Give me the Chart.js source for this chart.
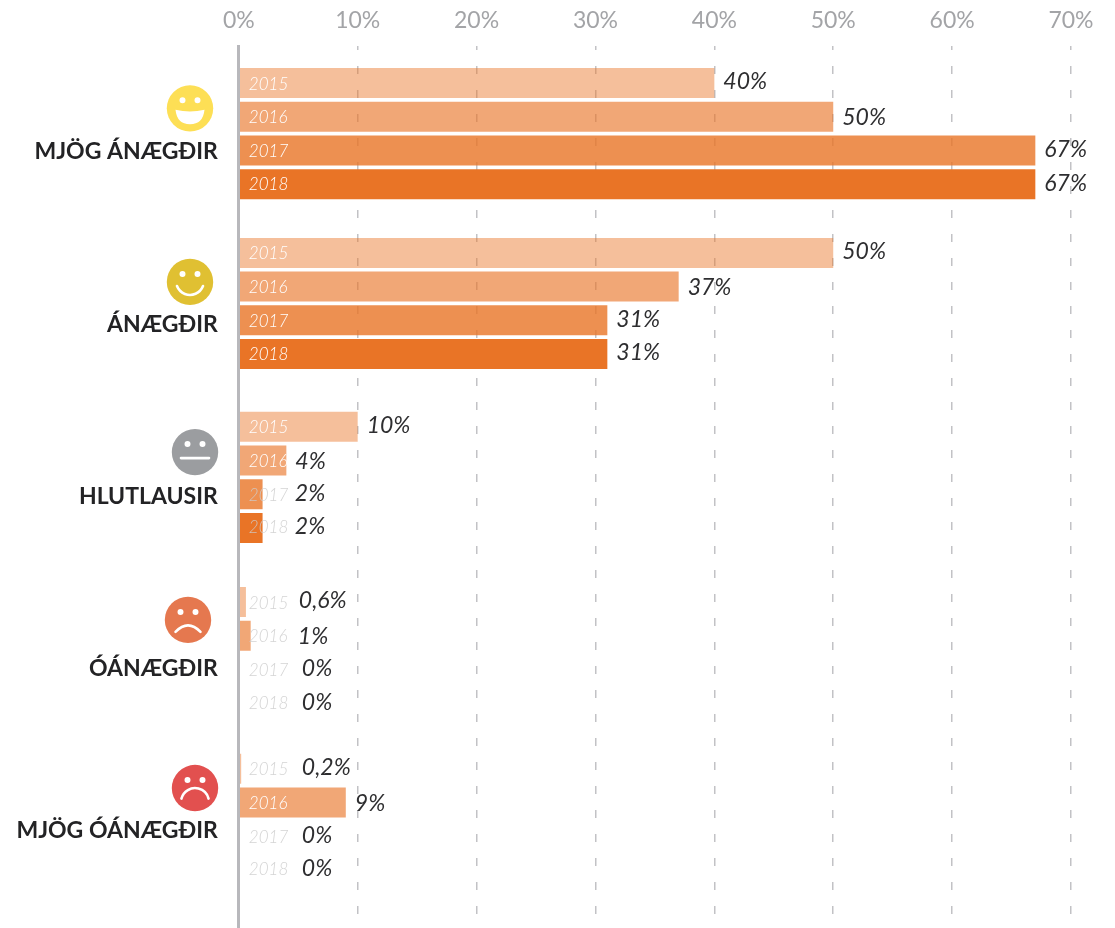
<!DOCTYPE html>
<html><head><meta charset="utf-8">
<style>html,body{margin:0;padding:0;background:#fff}#w{width:1115px;height:928px;position:relative}</style>
<script src="https://cdn.jsdelivr.net/npm/chart.js@4"></script>
</head><body><div id="w"><canvas id="c" width="1115" height="928"></canvas></div>
<script>
// Data
const categories = ['MJÖG ÁNÆGÐIR','ÁNÆGÐIR','HLUTLAUSIR','ÓÁNÆGÐIR','MJÖG ÓÁNÆGÐIR'];
const years = ['2015','2016','2017','2018'];
const values2015 = [40,50,10,0.6,0.2];
const values2016 = [50,37,4,1,9];
const values2017 = [67,31,2,0,0];
const values2018 = [67,31,2,0,0];
const xTicks = [0,10,20,30,40,50,60,70];

// Layout (units of one bar row on the vertical scale)
const rowPx = 33.7;
const plotTop = 46, plotLeft = 238.8, plotRight = 1071;
const yMax = (928 - plotTop) / rowPx;
const groupSlots = [2.60,7.64,12.80,18.00,22.95];
const labelSlots = [3.145,8.28,13.38,18.46,23.29];
const faceSlots = [1.85,7.00,12.05,17.03,22.02];
const faceX = [190,190,195,188,195];
const faceColors = ['#FDDF55','#E0C032','#9B9DA0','#E5784F','#E2504F'];
const faceMouths = ['grin','smile','flat','frown','deepfrown'];
const seriesColors = ['rgba(233,116,38,.46)','rgba(233,116,38,.63)','rgba(233,116,38,.80)','rgba(233,116,38,1)'];
const seriesValues = [values2015,values2016,values2017,values2018];
const yearNudge = [1,1,1,0];
const valueNudge = [-1,1,-1,-1];
const minValueLabelOffset = v => v===0||v===0.2 ? 63 : v===0.6 ? 60 : v===1 ? 59 : 56;

const smallestGap = Math.min(...labelSlots.slice(1).map((v,i)=>v-labelSlots[i]), ...groupSlots.slice(1).map((v,i)=>v-groupSlots[i]));

const faces = {id:'faces', afterDatasetsDraw(chart){
  const {ctx, scales:{y}} = chart;
  ctx.save();
  faceSlots.forEach((slot,i)=>{
    const cx = faceX[i], cy = y.getPixelForValue(slot), r = 23.2;
    ctx.fillStyle = faceColors[i];
    ctx.beginPath(); ctx.arc(cx,cy,r,0,Math.PI*2); ctx.fill();
    ctx.fillStyle = '#fff'; ctx.strokeStyle = '#fff'; ctx.lineWidth = 2.6; ctx.lineCap='round';
    ctx.beginPath(); ctx.arc(cx-7.5,cy-8,3,0,Math.PI*2); ctx.arc(cx+7.5,cy-8,3,0,Math.PI*2); ctx.fill();
    const m = faceMouths[i];
    ctx.beginPath();
    if (m==='grin'){ ctx.moveTo(cx-14.5,cy+1.5); ctx.quadraticCurveTo(cx,cy+5,cx+14.5,cy+1.5); ctx.quadraticCurveTo(cx+13,cy+16,cx,cy+16); ctx.quadraticCurveTo(cx-13,cy+16,cx-14.5,cy+1.5); ctx.fill(); }
    else if (m==='smile'){ ctx.arc(cx,cy-1,14,0.12*Math.PI,0.88*Math.PI); ctx.stroke(); }
    else if (m==='flat'){ ctx.moveTo(cx-14,cy+6); ctx.lineTo(cx+14,cy+6); ctx.stroke(); }
    else if (m==='frown'){ ctx.moveTo(cx-12.5,cy+12); ctx.quadraticCurveTo(cx,cy-1,cx+12.5,cy+12); ctx.stroke(); }
    else { ctx.arc(cx,cy+14,14,1.08*Math.PI,1.92*Math.PI); ctx.stroke(); }
  });
  ctx.restore();
}};

const barText = {id:'barText', afterDatasetsDraw(chart){
  const {ctx, scales:{x}} = chart;
  ctx.save();
  ctx.textBaseline = 'middle'; ctx.textAlign = 'left';
  chart.data.datasets.forEach((ds,d)=>{
    const meta = chart.getDatasetMeta(d);
    meta.data.forEach((bar,i)=>{
      const v = ds.data[i].x;
      const zero = x.getPixelForValue(0), end = x.getPixelForValue(v);
      const onBar = end - zero > 40;
      ctx.font = 'italic 300 17px Lato';
      ctx.fillStyle = onBar ? '#fff' : 'rgba(205,205,205,.85)';
      ctx.fillText(years[d], zero + 10, bar.y + yearNudge[d]);
      ctx.font = 'italic 400 23px Lato';
      ctx.fillStyle = '#2e2e30';
      const tx = Math.max(end + 9, zero + minValueLabelOffset(v));
      ctx.fillText(String(v).replace('.',',') + '%', tx, bar.y + valueNudge[d]);
    });
  });
  ctx.restore();
}};

new Chart(document.getElementById('c'), {
  type:'bar',
  data:{
    datasets: years.map((yr,d)=>({
      label: yr,
      data: seriesValues[d].map((v,i)=>({x:v,y:groupSlots[i]})),
      backgroundColor: seriesColors[d],
      borderWidth: 0,
      barPercentage: 30/33.7,
      categoryPercentage: 4/smallestGap
    }))
  },
  options:{
    indexAxis:'y', responsive:false, animation:false, devicePixelRatio:1,
    layout:{padding:0},
    plugins:{legend:{display:false},tooltip:{enabled:false},title:{display:false}},
    scales:{
      x:{
        type:'linear', position:'top', min:0, max:70, offset:false,
        afterBuildTicks(s){ s.ticks = xTicks.map(value=>({value})); },
        afterFit(s){ s.height = plotTop; s.paddingRight = 1115-plotRight; s.paddingLeft = 0; },
        ticks:{callback:v=>v+'%', color:'#a3a4a7', font:{family:'Lato',size:23}, padding:12, maxRotation:0, autoSkip:false},
        grid:{color:'#c2c2c5', lineWidth:1.5, drawTicks:false},
        border:{display:false, dash:[8,16], dashOffset:4}
      },
      y:{
        type:'linear', position:'left', min:0, max:yMax, reverse:true, offset:false,
        afterBuildTicks(s){ s.ticks = labelSlots.map(value=>({value})); },
        afterFit(s){ s.width = plotLeft; s.paddingTop = 0; s.paddingBottom = 0; },
        ticks:{callback:(v,i)=>categories[i], color:'#232325', font:{family:'Lato',size:23,weight:'700'}, padding:21, autoSkip:false},
        grid:{display:false, drawTicks:false, offset:false},
        border:{display:true, color:'#b8b8bc', width:3, z:2}
      }
    }
  },
  plugins:[faces,barText]
});
</script></body></html>
